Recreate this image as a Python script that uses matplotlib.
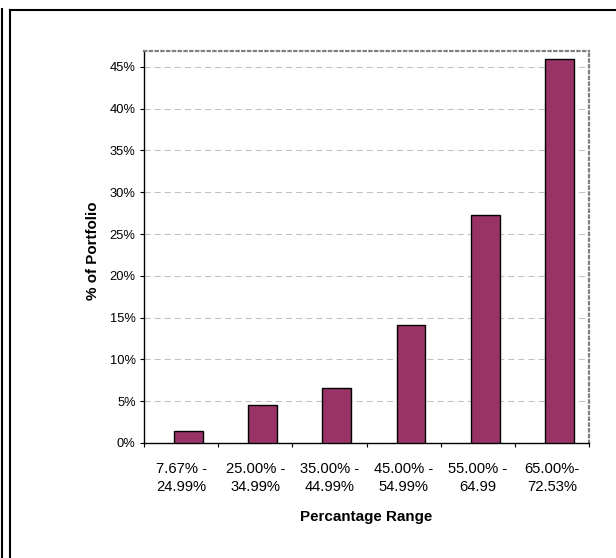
import matplotlib
matplotlib.use("Agg")
import matplotlib.pyplot as plt
import numpy as np
from matplotlib.lines import Line2D
from matplotlib.ticker import FuncFormatter

plt.rcParams['font.family'] = ['Liberation Sans', 'DejaVu Sans']

# share of portfolio per percentage range
ranges = ["7.67% -\n24.99%", "25.00% -\n34.99%", "35.00% -\n44.99%",
          "45.00% -\n54.99%", "55.00% -\n64.99", "65.00%-\n72.53%"]
share = [1.45, 4.55, 6.55, 14.1, 27.3, 45.9]
y_ticks = [0, 5, 10, 15, 20, 25, 30, 35, 40, 45]

fig = plt.figure(figsize=(6.16, 5.58), dpi=100)
ax = fig.add_axes([0.2338, 0.2061, 0.7224, 0.7025])

x = np.arange(len(ranges))
ax.bar(x + 0.1, share, width=0.39, color="#993366", edgecolor="black",
       linewidth=1.0, zorder=3)

ax.set_xlim(-0.5, len(ranges) - 0.5)
ax.set_ylim(0, 46.9)

ax.set_yticks(y_ticks)
ax.yaxis.set_major_formatter(FuncFormatter(lambda v, p: f"{v:.0f}%"))
ax.tick_params(axis="y", direction="out", length=3, width=0.8, pad=3,
               labelsize=9.3, colors="black")
ax.grid(axis="y", color="#c0c0c0", linestyle=(0, (5.8, 3.9)), linewidth=0.75,
        zorder=0)

ax.set_xticks(x)
ax.set_xticklabels(ranges, fontsize=10.6, linespacing=1.35)
ax.set_xticks(np.arange(len(ranges) + 1) - 0.5, minor=True)
ax.tick_params(axis="x", which="major", length=0, pad=14)
ax.tick_params(axis="x", which="minor", direction="out", length=3, width=0.8)

for side in ("left", "bottom"):
    ax.spines[side].set_color("black")
    ax.spines[side].set_linewidth(1.0)
for side in ("top", "right"):
    ax.spines[side].set_color("#808080")
    ax.spines[side].set_linewidth(1.6)
    ax.spines[side].set_linestyle((0, (1, 1.6)))

ax.set_ylabel("% of Portfolio", fontsize=10.9, fontweight="bold")
ax.yaxis.set_label_coords(-0.1, 0.49)
ax.set_xlabel("Percantage Range", fontsize=10.9, fontweight="bold")
ax.xaxis.set_label_coords(0.5, -0.17)

# chart frame lines along the left and top edges
W, H = 616, 558
frame = [
    ([2 / W, 2 / W], [0, 1 - 9 / H]),
    ([10 / W, 10 / W], [0, 1 - 10 / H]),
    ([10 / W, 1], [1 - 10 / H, 1 - 10 / H]),
]
for xs, ys in frame:
    fig.add_artist(Line2D(xs, ys, color="black", linewidth=1.5,
                          transform=fig.transFigure))

fig.savefig("out.png", dpi=100)
